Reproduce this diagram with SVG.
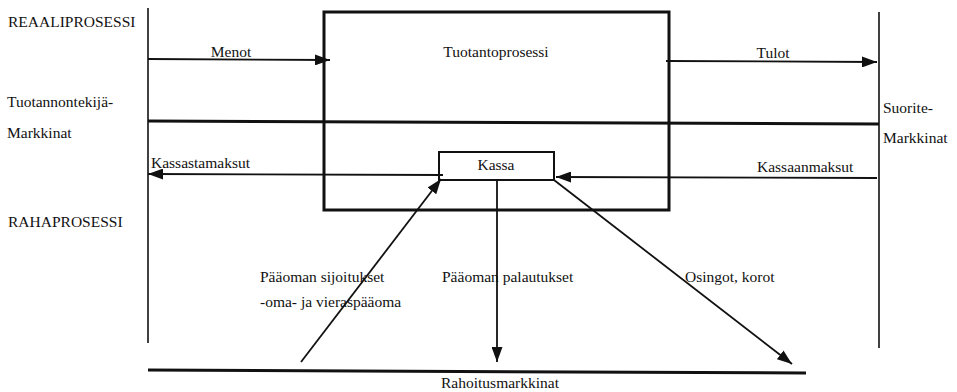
<svg xmlns="http://www.w3.org/2000/svg" width="957" height="392" viewBox="0 0 957 392" font-family="'Liberation Serif', 'Times New Roman', serif">
<style>
text{font-family:"Liberation Serif","Times New Roman",serif;font-size:15.5px;fill:#111}
.thin{stroke:#111;stroke-width:1.6;fill:none}
.arr{stroke:#111;stroke-width:1.8;fill:none;marker-end:url(#ah)}
.thick{stroke:#111;stroke-width:3;fill:none}
</style>
<defs>
<marker id="ah" markerUnits="userSpaceOnUse" markerWidth="15" markerHeight="11" refX="15" refY="5.5" orient="auto">
<path d="M0,0 L15,5.5 L0,11 z" fill="#111"/>
</marker>
</defs>
<rect width="957" height="392" fill="#fff"/>
<g id="labels">
<text x="8" y="27">REAALIPROSESSI</text>
<text x="7" y="107">Tuotannontekijä-</text>
<text x="7" y="138">Markkinat</text>
<text x="8" y="227">RAHAPROSESSI</text>
<text x="883" y="113">Suorite-</text>
<text x="883" y="143">Markkinat</text>
</g>
<g id="markets">
<line class="thin" x1="148" y1="8" x2="148" y2="343"/>
<line class="thin" x1="879" y1="12" x2="879" y2="348"/>
<line class="thick" x1="148" y1="121" x2="879" y2="124"/>
<line class="thick" x1="148" y1="370" x2="806" y2="373" stroke-width="2.6"/>
<text x="500" y="388" text-anchor="middle">Rahoitusmarkkinat</text>
</g>
<g id="tuotantoprosessi">
<rect class="thick" x="324" y="12" width="345" height="198"/>
<text x="496" y="57" text-anchor="middle">Tuotantoprosessi</text>
</g>
<g id="kassa">
<rect x="439" y="152" width="115" height="28" fill="#fff" stroke="#111" stroke-width="2"/>
<text x="496" y="170" text-anchor="middle">Kassa</text>
</g>
<g id="connectors">
<line class="arr" x1="148" y1="59" x2="330" y2="60"/>
<text x="231" y="57" text-anchor="middle">Menot</text>
<line class="arr" x1="666" y1="61" x2="877" y2="62"/>
<text x="773" y="58" text-anchor="middle">Tulot</text>
<line class="arr" x1="443" y1="175" x2="148" y2="174"/>
<text x="151" y="168">Kassastamaksut</text>
<line class="arr" x1="877" y1="178" x2="556" y2="177"/>
<text x="757" y="172">Kassaanmaksut</text>
<line class="arr" x1="301" y1="362" x2="441" y2="179"/>
<text x="260" y="282">Pääoman sijoitukset</text>
<text x="260" y="307">-oma- ja vieraspääoma</text>
<line class="arr" x1="497" y1="181" x2="497" y2="362"/>
<text x="442" y="282">Pääoman palautukset</text>
<line class="arr" x1="554" y1="180" x2="792" y2="364"/>
<text x="685" y="282">Osingot, korot</text>
</g>
</svg>
